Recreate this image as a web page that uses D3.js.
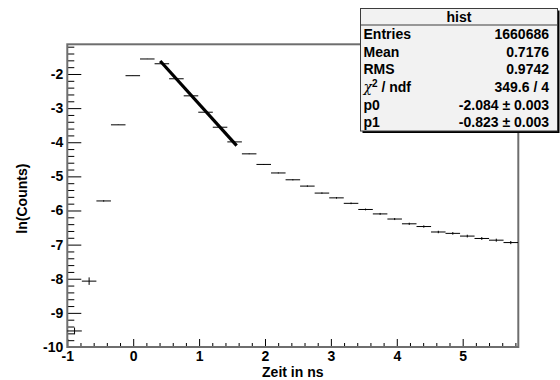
<!DOCTYPE html>
<html><head><meta charset="utf-8">
<script src="https://cdn.jsdelivr.net/npm/d3@7"></script>
<style>
body{margin:0;background:#fff}
svg text{font-family:"Liberation Sans",Arial,Helvetica,sans-serif;font-weight:bold;fill:#000}
</style>
</head><body>
<svg id="c" width="560" height="380"></svg>
<script>
// ---- data ----
const binCenters = [-0.890,-0.669,-0.448,-0.227,-0.006,0.214,0.435,0.656,0.877,1.098,1.318,1.539,1.760,1.981,2.202,2.423,2.643,2.864,3.085,3.306,3.526,3.747,3.968,4.189,4.410,4.630,4.850,5.070,5.290,5.510,5.730];
const lnCounts   = [-9.53,-8.07,-5.72,-3.49,-2.05,-1.56,-1.70,-2.14,-2.64,-3.12,-3.56,-3.99,-4.34,-4.65,-4.90,-5.10,-5.285,-5.49,-5.63,-5.79,-5.97,-6.10,-6.25,-6.39,-6.47,-6.63,-6.67,-6.75,-6.82,-6.87,-6.94];
const lnErrors   = [0.10,0.11,0.02,0.005,0.003,0.003,0.003,0.003,0.004,0.005,0.006,0.008,0.01,0.012,0.015,0.017,0.02,0.02,0.022,0.024,0.026,0.028,0.03,0.032,0.034,0.036,0.038,0.04,0.042,0.044,0.046];
const binWidth   = 0.2208;
const fitX = [0.41, 1.57];
const fitY = [-1.62, -4.10];
const xDomain = [-1, 5.844];
const yDomain = [-10, -1.13];
const xTickValues = [-1,0,1,2,3,4,5];
const yTickValues = [-10,-9,-8,-7,-6,-5,-4,-3,-2];
const xTitle = "Zeit in ns";
const yTitle = "ln(Counts)";
const statTitle = "hist";
const statLabels = ["Entries","Mean","RMS","χ2 / ndf","p0","p1"];
const statValues = ["1660686","0.7176","0.9742","349.6 / 4","-2.084 ± 0.003","-0.823 ± 0.003"];

// ---- layout ----
const L = 67.3, R = 518.3, T = 44.3, B = 347;
const svg = d3.select("#c");
const x = d3.scaleLinear().domain(xDomain).range([L, R]);
const y = d3.scaleLinear().domain(yDomain).range([B, T]);
const fmt = d => String(d);

// minor ticks
const xMinor = d3.range(-1, 5.85, 0.2).filter(v => !xTickValues.some(t => Math.abs(t - v) < 1e-6));
const yMinor = d3.range(-10, -1.1, 0.2).filter(v => !yTickValues.some(t => Math.abs(t - v) < 1e-6));

const gx = svg.append("g").attr("transform", `translate(0,${B})`);
gx.call(d3.axisBottom(x).tickValues(xMinor).tickSizeInner(-4).tickSizeOuter(0).tickFormat(""));
const gx2 = svg.append("g").attr("transform", `translate(0,${B})`);
gx2.call(d3.axisBottom(x).tickValues(xTickValues).tickSizeInner(-8).tickSizeOuter(0).tickPadding(4).tickFormat(fmt));
const gy = svg.append("g").attr("transform", `translate(${L},0)`);
gy.call(d3.axisLeft(y).tickValues(yMinor).tickSizeInner(-7).tickSizeOuter(0).tickFormat(""));
const gy2 = svg.append("g").attr("transform", `translate(${L},0)`);
gy2.call(d3.axisLeft(y).tickValues(yTickValues).tickSizeInner(-14).tickSizeOuter(0).tickPadding(4).tickFormat(fmt));
svg.selectAll(".domain").remove();
svg.selectAll(".tick line").attr("stroke", "#000").attr("stroke-width", 1);
svg.selectAll(".tick text").style("font-size", "14px").style("font-family", '"Liberation Sans",Arial,sans-serif').style("font-weight", "bold").attr("fill", "#000");
gx2.selectAll(".tick text").attr("dy", "0.72em");

// frame
svg.append("rect").attr("x", L).attr("y", T).attr("width", R - L).attr("height", B - T)
  .attr("fill", "none").attr("stroke", "#6e6e6e").attr("stroke-width", 2);

// histogram bins
const data = binCenters.map((c, i) => ({c, v: lnCounts[i], e: lnErrors[i]}));
const hb = svg.append("g").attr("stroke", "#000").attr("stroke-width", 1);
hb.selectAll("line.h").data(data).join("line").attr("class", "h")
  .attr("x1", d => x(d.c - binWidth / 2)).attr("x2", d => x(d.c + binWidth / 2))
  .attr("y1", d => y(d.v)).attr("y2", d => y(d.v));
hb.selectAll("line.v").data(data).join("line").attr("class", "v")
  .attr("x1", d => x(d.c)).attr("x2", d => x(d.c))
  .attr("y1", d => y(d.v - d.e)).attr("y2", d => y(d.v + d.e));

// fit line
svg.append("path").datum(fitX.map((fx, i) => [fx, fitY[i]]))
  .attr("d", d3.line().x(d => x(d[0])).y(d => y(d[1])))
  .attr("stroke", "#000").attr("stroke-width", 3.2).attr("fill", "none");

// axis titles
svg.append("text").attr("x", (L + R) / 2).attr("y", 377).attr("text-anchor", "middle")
  .style("font-size", "14px").text(xTitle);
svg.append("text").attr("transform", `translate(27,${(T + B) / 2 + 3}) rotate(-90)`).attr("text-anchor", "middle")
  .style("font-size", "14px").text(yTitle);

// stats box
const bx = 360.5, by = 8.5, bw = 197, bh = 122.5, hh = 16.5;
svg.append("rect").attr("x", bx + 2).attr("y", by + 2).attr("width", bw).attr("height", bh).attr("fill", "#000");
svg.append("rect").attr("x", bx).attr("y", by).attr("width", bw).attr("height", bh)
  .attr("fill", "#f2f2f2").attr("stroke", "#3c3c3c").attr("stroke-width", 1);
svg.append("line").attr("x1", bx).attr("x2", bx + bw).attr("y1", by + hh).attr("y2", by + hh)
  .attr("stroke", "#3c3c3c").attr("stroke-width", 1);
svg.append("text").attr("x", bx + bw / 2).attr("y", by + 13).attr("text-anchor", "middle")
  .style("font-size", "14px").text(statTitle);
const rowH = (bh - hh) / statLabels.length;
statLabels.forEach((lab, i) => {
  const cy = by + hh + rowH * (i + 0.5) + 5;
  const t = svg.append("text").attr("x", bx + 3).attr("y", cy).style("font-size", "14px");
  if (lab.startsWith("χ2")) {
    t.append("tspan").style("font-weight", "normal").style("font-family", '"DejaVu Serif",serif').style("font-style", "italic").text("χ");
    t.append("tspan").attr("dy", -5).style("font-size", "10px").text("2");
    t.append("tspan").attr("dy", 5).text(" / ndf");
  } else t.text(lab);
  svg.append("text").attr("x", bx + bw - 8.5).attr("y", cy).attr("text-anchor", "end")
    .style("font-size", "14px").text(statValues[i]);
});
</script>
</body></html>
